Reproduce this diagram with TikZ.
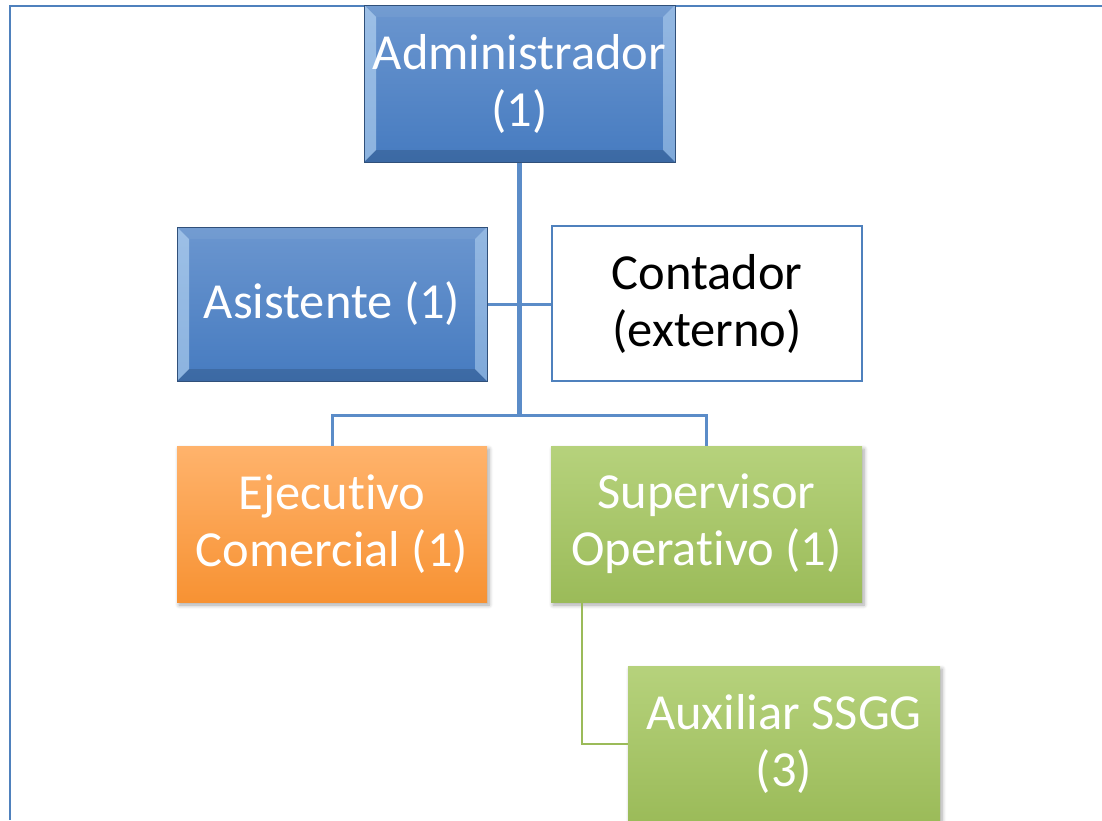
\documentclass[tikz,border=0pt]{standalone}
\usepackage{fontspec}
\setmainfont[Ligatures=NoCommon]{Carlito}
\usetikzlibrary{shadows.blur}
\definecolor{frameblue}{HTML}{4F81BD}
\definecolor{linkblue}{HTML}{5B8CC8}
\definecolor{btop}{HTML}{6B96CF}
\definecolor{bbot}{HTML}{467BC0}
\definecolor{bdark}{HTML}{30507A}
\definecolor{bevlight}{HTML}{C6E2FA}
\definecolor{otop}{HTML}{FFB36C}
\definecolor{obot}{HTML}{F79233}
\definecolor{gtop}{HTML}{B6D27C}
\definecolor{gbot}{HTML}{9BBB59}
\tikzset{
  boxtext/.style={align=center, font=\fontsize{50.5}{57}\selectfont, inner sep=0pt},
  bevelbox/.style={boxtext, rectangle, text=white, minimum width=#1, minimum height=156pt,
    top color=btop, bottom color=bbot, draw=bdark, line width=1pt,
    path picture={
      \fill[bevlight, opacity=0.55] (path picture bounding box.south west) -- (path picture bounding box.north west)
        -- ([shift={(12pt,-12pt)}]path picture bounding box.north west) -- ([shift={(12pt,12pt)}]path picture bounding box.south west) -- cycle;
      \fill[bevlight, opacity=0.45] (path picture bounding box.south east) -- (path picture bounding box.north east)
        -- ([shift={(-12pt,-12pt)}]path picture bounding box.north east) -- ([shift={(-12pt,12pt)}]path picture bounding box.south east) -- cycle;
      \fill[black, opacity=0.14] (path picture bounding box.south west) -- (path picture bounding box.south east)
        -- ([shift={(-12pt,12pt)}]path picture bounding box.south east) -- ([shift={(12pt,12pt)}]path picture bounding box.south west) -- cycle;
      \fill[white, opacity=0.06] (path picture bounding box.north west) -- (path picture bounding box.north east)
        -- ([shift={(-12pt,-12pt)}]path picture bounding box.north east) -- ([shift={(12pt,-12pt)}]path picture bounding box.north west) -- cycle;
    }},
  flatbox/.style={boxtext, rectangle, text=white, minimum width=311pt, minimum height=156pt,
    blur shadow={shadow xshift=2pt, shadow yshift=-3pt, shadow blur steps=6, shadow opacity=35, shadow blur radius=4pt}},
  orangebox/.style={flatbox, top color=otop, bottom color=obot},
  greenbox/.style={flatbox, top color=gtop, bottom color=gbot},
  outlinebox/.style={boxtext, rectangle, text=black, fill=white, draw=frameblue, line width=2.4pt,
    minimum width=310pt, minimum height=155pt},
  trunk/.style={draw=linkblue, line width=4.5pt},
  link/.style={draw=linkblue, line width=3pt},
  greenlink/.style={draw=gbot, line width=2.2pt},
}
\begin{document}
\begin{tikzpicture}[x=1pt, y=-1pt]
\useasboundingbox (0,0) rectangle (1102,820);
% frame
\draw[frameblue, line width=2.2pt] (10,820) -- (10,6) -- (1110,6);
\coordinate (bus) at (519.5,415);
\node[bevelbox=311pt, minimum height=157pt] (admin) at (519.5,83.5) {Administrador\\(1)};
\node[bevelbox=310pt, minimum height=154pt] (asist) at (332,304) {Asistente (1)};
\node[outlinebox] (cont) at (707,303.5) {Contador\\(externo)};
\node[orangebox, minimum width=310pt] (ejec) at (332,524) {Ejecutivo\\Comercial (1)};
\node[greenbox] (sup) at (706.5,524) {Supervisor\\Operativo (1)};
\node[greenbox, minimum width=312pt] (aux) at (784,744) {Auxiliar SSGG\\(3)};
\coordinate (supdrop) at ([xshift=31pt]sup.south west);
\draw[link] (asist.east) -- (asist.east -| cont.west);
\draw[trunk] (admin.south) -- (bus);
\draw[link] (ejec.north) |- (bus) -| (sup.north);
\draw[greenlink] (supdrop) |- (aux.west);
\end{tikzpicture}
\end{document}
